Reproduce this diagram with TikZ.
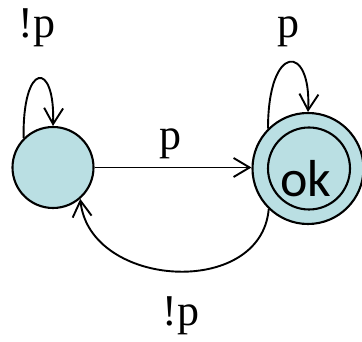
\documentclass[tikz,border=0pt]{standalone}
\usepackage{fontspec}
\setmainfont{Liberation Serif}
\newfontfamily\okfont{Carlito}
\usetikzlibrary{arrows.meta,topaths}
\definecolor{statefill}{RGB}{186,223,227}
\begin{document}
\begin{tikzpicture}[x=1pt,y=1pt,
  state/.style={circle, draw=black, line width=2.1pt, fill=statefill, inner sep=0pt},
  edge/.style={line width=1.9pt, -{Straight Barb[length=16pt,width=19pt,line width=1.9pt]}},
  lbl/.style={anchor=base, inner sep=0pt, font=\fontsize{44}{48}\selectfont}]
\useasboundingbox (0,0) rectangle (362,342);
\node[state, minimum size=81pt] (q0) at (53,174.5) {};
\node[state, minimum size=111pt] (q1) at (308,173.5) {};
\node[circle, draw=black, line width=2.1pt, minimum size=82pt, inner sep=0pt] (q1in) at (309,173.5) {};
\node[anchor=base, inner sep=0pt, font=\okfont\fontsize{52}{56}\selectfont] (ok) at (306,145) {ok};
% edges
\draw[edge] (q0.east) -- (q0.east -| q1.west);
\draw[edge] (q0.135) to[out=91, in=88, out distance=77pt, in distance=66pt] (q0.north);
\draw[edge] (q1.135) to[out=90, in=87, out distance=86pt, in distance=69pt] (q1.north);
\draw[edge] (q1.-134) to[out=-95, in=-84, out distance=90pt, in distance=90pt] (q0.-49);
% labels
\node[lbl] (l1) at (37,304) {!p};
\node[lbl] (l2) at (288,304) {p};
\node[lbl] (l3) at (170,192) {p};
\node[lbl] (l4) at (181,16) {!p};
\end{tikzpicture}
\end{document}
